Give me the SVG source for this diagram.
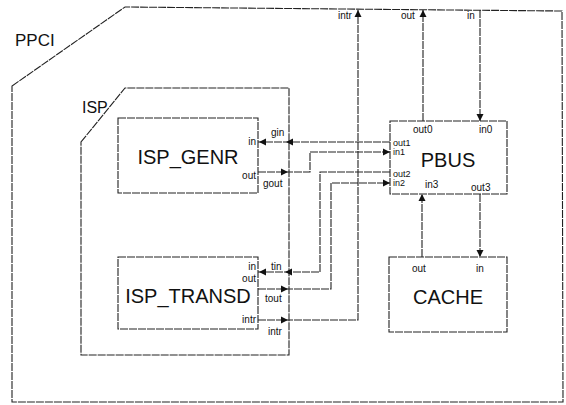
<svg xmlns="http://www.w3.org/2000/svg" xmlns:xlink="http://www.w3.org/1999/xlink" width="566" height="405" viewBox="0 0 566 405">
<style>
.b{fill:none;stroke:#222;stroke-width:1.1;stroke-dasharray:8 1}
.c{fill:none;stroke:#222;stroke-width:1.1;stroke-dasharray:8 1}
.t{font-family:"Liberation Sans",Arial,sans-serif;fill:#111}
.big{font-size:20px}
.lab{font-size:17px}
.p{font-size:10px}
.s{font-size:9px}
.a{fill:#111}
</style>
<defs>
<path id="ah" d="M0,0 L-7,-3.5 L-7,3.5 Z"/>
</defs>
<rect width="566" height="405" fill="#fff"/>
<g id="PPCI">
<path class="b" d="M12,86 L125,7 L562,11 L563,402 L12,402 Z"/>
<text class="t lab" x="15" y="46" font-size="18">PPCI</text>
</g>
<g id="ISP">
<path class="b" d="M81,142 L125,88 L289,88 L289,355 L81,355 Z"/>
<text class="t" x="82" y="113" font-size="16">ISP</text>
</g>
<g id="ISP_GENR">
<rect class="b" x="118" y="118" width="140" height="75"/>
<text class="t big" x="188" y="164" text-anchor="middle">ISP_GENR</text>
<text class="t p" x="256" y="145" text-anchor="end">in</text>
<text class="t p" x="256" y="179" text-anchor="end">out</text>
</g>
<g id="ISP_TRANSD">
<rect class="b" x="118" y="257" width="140" height="72"/>
<text class="t big" x="188" y="303" text-anchor="middle">ISP_TRANSD</text>
<text class="t p" x="256" y="270" text-anchor="end">in</text>
<text class="t p" x="256" y="282" text-anchor="end">out</text>
<text class="t p" x="256" y="323" text-anchor="end">intr</text>
</g>
<g id="PBUS">
<rect class="b" x="390" y="121" width="117" height="73"/>
<text class="t big" x="448" y="167" text-anchor="middle">PBUS</text>
<text class="t p" x="413" y="133">out0</text>
<text class="t p" x="479" y="133">in0</text>
<text class="t s" x="393" y="146">out1</text>
<text class="t s" x="393" y="155">in1</text>
<text class="t s" x="393" y="177">out2</text>
<text class="t s" x="393" y="186">in2</text>
<text class="t p" x="425" y="188">in3</text>
<text class="t p" x="471" y="191">out3</text>
</g>
<g id="CACHE">
<rect class="b" x="389" y="257" width="118" height="75"/>
<text class="t big" x="448" y="304" text-anchor="middle">CACHE</text>
<text class="t p" x="412" y="272">out</text>
<text class="t p" x="476" y="272">in</text>
</g>
<g id="connectors">
<polyline class="c" points="390,142 258,142"/>
<polyline class="c" points="258,172 310,172 310,152 390,152"/>
<polyline class="c" points="390,172 320,172 320,272 258,272"/>
<polyline class="c" points="258,289 331,289 331,183 390,183"/>
<polyline class="c" points="258,320 358,320 358,10"/>
<polyline class="c" points="423,121 423,10"/>
<polyline class="c" points="480,10 480,121"/>
<polyline class="c" points="480,194 480,257"/>
<polyline class="c" points="422,257 422,194"/>
<use xlink:href="#ah" class="a" transform="translate(286,142) rotate(180)"/>
<use xlink:href="#ah" class="a" transform="translate(259,142) rotate(180)"/>
<use xlink:href="#ah" class="a" transform="translate(288,172)"/>
<use xlink:href="#ah" class="a" transform="translate(390,152)"/>
<use xlink:href="#ah" class="a" transform="translate(285,272) rotate(180)"/>
<use xlink:href="#ah" class="a" transform="translate(259,272) rotate(180)"/>
<use xlink:href="#ah" class="a" transform="translate(288,289)"/>
<use xlink:href="#ah" class="a" transform="translate(390,183)"/>
<use xlink:href="#ah" class="a" transform="translate(288,320)"/>
<use xlink:href="#ah" class="a" transform="translate(358,10) rotate(-90)"/>
<use xlink:href="#ah" class="a" transform="translate(423,10) rotate(-90)"/>
<use xlink:href="#ah" class="a" transform="translate(480,121) rotate(90)"/>
<use xlink:href="#ah" class="a" transform="translate(422,194) rotate(-90)"/>
<use xlink:href="#ah" class="a" transform="translate(480,257) rotate(90)"/>
<text class="t p" x="271" y="136">gin</text>
<text class="t p" x="263" y="187">gout</text>
<text class="t p" x="271" y="270">tin</text>
<text class="t p" x="265" y="302">tout</text>
<text class="t p" x="268" y="335">intr</text>
<text class="t p" x="338" y="19">intr</text>
<text class="t p" x="401" y="19">out</text>
<text class="t p" x="467" y="19">in</text>
</g>
</svg>
